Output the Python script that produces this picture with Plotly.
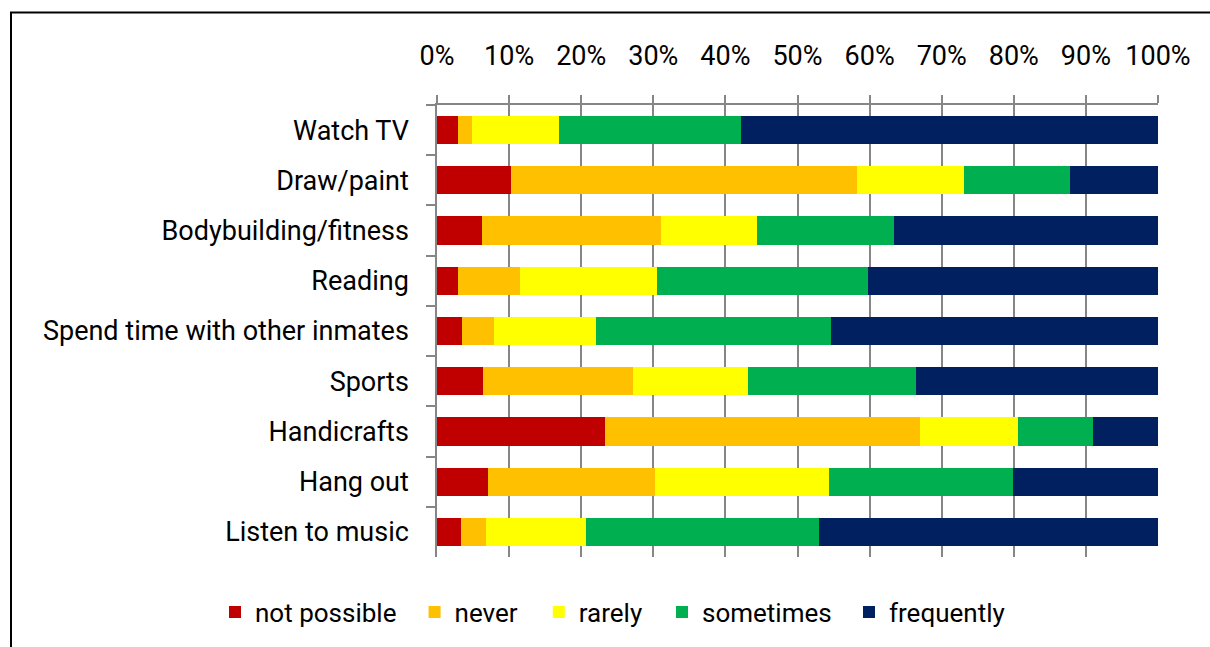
import plotly.graph_objects as go

categories = ["Watch TV", "Draw/paint", "Bodybuilding/fitness", "Reading",
              "Spend time with other inmates", "Sports", "Handicrafts",
              "Hang out", "Listen to music"]

not_possible = [2.9, 10.2, 6.3, 2.9, 3.5, 6.4, 23.3, 7.1, 3.3]
never        = [2.0, 48.1, 24.8, 8.6, 4.4, 20.8, 43.7, 23.1, 3.5]
rarely       = [12.0, 14.8, 13.3, 19.0, 14.2, 15.9, 13.6, 24.1, 13.9]
sometimes    = [25.3, 14.7, 19.0, 29.3, 32.5, 23.4, 10.4, 25.6, 32.3]
frequently   = [57.8, 12.2, 36.6, 40.2, 45.4, 33.5, 9.0, 20.1, 47.0]

series_names = ["not possible", "never", "rarely", "sometimes", "frequently"]
series_values = [not_possible, never, rarely, sometimes, frequently]
series_colors = ["#C00000", "#FFC000", "#FFFF00", "#00B050", "#002060"]

tick_vals = [0, 10, 20, 30, 40, 50, 60, 70, 80, 90, 100]
tick_text = ["0%", "10%", "20%", "30%", "40%", "50%", "60%", "70%", "80%", "90%", "100%"]

W, H = 1210, 647
L, R, T, B = 437, 52, 105, 89.5
pw, ph = W - L - R, H - T - B

# legend entry left positions (pixels)
legend_px = [215, 414.6, 538.8, 662, 849]
legend_ids = ["legend", "legend2", "legend3", "legend4", "legend5"]

fig = go.Figure()
for name, vals, color, lid in zip(series_names, series_values, series_colors, legend_ids):
    fig.add_trace(go.Bar(
        y=categories, x=vals, name=name, orientation="h",
        marker=dict(color=color, line=dict(width=0)),
        legend=lid,
    ))


def px2x(px):
    return (px - L) / pw


def py2y(py):
    return (H - B - py) / ph


fig.add_shape(type="rect", xref="paper", yref="paper",
              x0=px2x(11), x1=px2x(1220), y0=py2y(12.5), y1=py2y(660),
              line=dict(color="#000000", width=2), fillcolor="rgba(0,0,0,0)",
              layer="below")

legend_layout = {}
for lid, lx in zip(legend_ids, legend_px):
    legend_layout[lid] = dict(
        orientation="h", xref="container", yref="container",
        x=lx / W, y=1 - 612 / H, xanchor="left", yanchor="middle",
        font=dict(size=26, family="Roboto", color="#000000"),
        bgcolor="rgba(0,0,0,0)", borderwidth=0,
    )

fig.update_layout(
    width=W, height=H,
    margin=dict(l=L, r=R, t=T, b=B, pad=0),
    barmode="stack", bargap=0.44,
    paper_bgcolor="white", plot_bgcolor="white",
    font=dict(family="Roboto", size=27, color="#000000"),
    showlegend=True,
    xaxis=dict(side="top", range=[0, 100], tickvals=tick_vals, ticktext=tick_text,
               showgrid=True, gridcolor="#868686", gridwidth=1.5,
               showline=True, linecolor="#868686", linewidth=1.5,
               ticks="outside", ticklen=8, tickwidth=1.5, tickcolor="#868686",
               ticklabelstandoff=19, zeroline=False, fixedrange=True),
    yaxis=dict(autorange="reversed", type="category",
               showline=True, linecolor="#868686", linewidth=1.5,
               ticks="outside", ticklen=9, tickwidth=1.5, tickcolor="#868686",
               tickson="boundaries", ticklabelstandoff=21, showgrid=False,
               fixedrange=True),
    **legend_layout,
)

fig.write_html("out.html", config={"displayModeBar": False},
               post_script="document.body.style.margin='0px';")
